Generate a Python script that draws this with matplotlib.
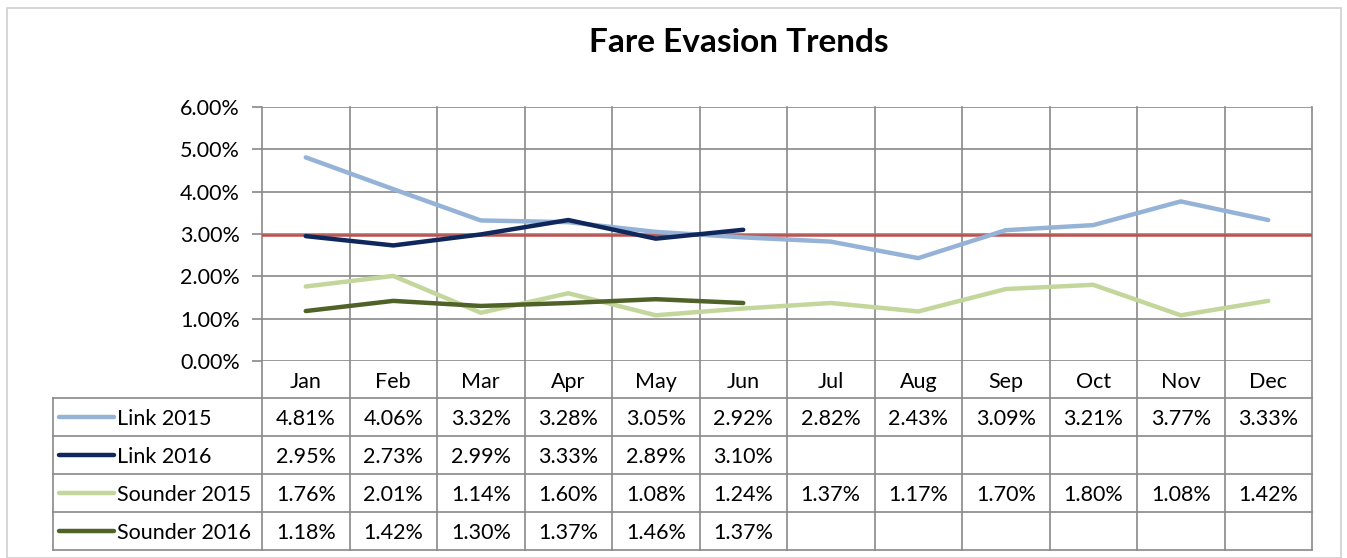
import matplotlib.pyplot as plt
import matplotlib.transforms as mtransforms
from matplotlib.patches import Rectangle
from matplotlib.lines import Line2D
import numpy as np

plt.rcParams['font.family'] = ['Lato', 'DejaVu Sans']

months = ['Jan', 'Feb', 'Mar', 'Apr', 'May', 'Jun',
          'Jul', 'Aug', 'Sep', 'Oct', 'Nov', 'Dec']
link_2015 = [4.81, 4.06, 3.32, 3.28, 3.05, 2.92, 2.82, 2.43, 3.09, 3.21, 3.77, 3.33]
link_2016 = [2.95, 2.73, 2.99, 3.33, 2.89, 3.10]
sounder_2015 = [1.76, 2.01, 1.14, 1.60, 1.08, 1.24, 1.37, 1.17, 1.70, 1.80, 1.08, 1.42]
sounder_2016 = [1.18, 1.42, 1.30, 1.37, 1.46, 1.37]
target = 2.97

series = [
    ('Link 2015', link_2015, '#95B3D7'),
    ('Link 2016', link_2016, '#10275C'),
    ('Sounder 2015', sounder_2015, '#C3D69B'),
    ('Sounder 2016', sounder_2016, '#4F6228'),
]

FS = 15.5
W, H = 1347, 558
fig = plt.figure(figsize=(W / 100, H / 100), dpi=100)

# outer chart border
fig.patches.append(Rectangle((7 / W, 0), (1341 - 7) / W, (H - 8) / H,
                             transform=fig.transFigure, fill=False,
                             edgecolor='#D0D0D0', lw=1.2))

left, right, top, bottom = 262, 1312, 107, 361
ax = fig.add_axes([left / W, (H - bottom) / H, (right - left) / W, (bottom - top) / H])
ax.set_xlim(0, 12)
ax.set_ylim(0, 6)
for s in ax.spines.values():
    s.set_visible(False)

grid_c = '#898989'
ax.set_yticks(np.arange(0, 7, 1))
ax.set_yticklabels(['%.2f%%' % v for v in range(7)], fontsize=FS)
ax.tick_params(axis='y', length=7, color=grid_c, width=1.2, pad=9)
ax.set_xticks([])
for v in range(7):
    ax.axhline(v, color=grid_c, lw=1.2, zorder=1)

fig.text(739 / W, 1 - 42 / H, 'Fare Evasion Trends', ha='center', va='center',
         fontsize=24, fontweight='bold')

x = np.arange(12) + 0.5
ax.axhline(target, color='#C0504D', lw=1.8, zorder=2)
for name, vals, c in series:
    ax.plot(x[:len(vals)], vals, color=c, lw=3.2, zorder=3, solid_capstyle='round')

# data table below the plot
tr = mtransforms.blended_transform_factory(ax.transData, ax.transAxes)
ph = bottom - top
rows_px = [361, 398, 436, 474, 512, 550]
rows = [(bottom - r) / ph for r in rows_px]
unit = (right - left) / 12
xlab = (53 - left) / unit
dy = -2 / ph  # nudge text down a little

# vertical grid through plot and table
for i in range(13):
    ax.add_line(Line2D([i, i], [rows[-1], 1], transform=tr, color=grid_c,
                       lw=1.2, clip_on=False, zorder=1))
for r in rows[1:]:
    ax.add_line(Line2D([xlab, 12], [r, r], transform=tr, color=grid_c,
                       lw=1.2, clip_on=False))
ax.add_line(Line2D([xlab, xlab], [rows[-1], rows[1]], transform=tr, color=grid_c,
                   lw=1.2, clip_on=False))

for i, m in enumerate(months):
    ax.text(i + 0.5, (rows[0] + rows[1]) / 2 + dy, m, transform=tr, ha='center',
            va='center', fontsize=FS)

for k, (name, vals, c) in enumerate(series):
    yc = (rows[k + 1] + rows[k + 2]) / 2
    ax.add_line(Line2D([(59 - left) / unit, (114 - left) / unit], [yc, yc],
                       transform=tr, color=c, lw=3.2, clip_on=False,
                       solid_capstyle='round'))
    ax.text((117 - left) / unit, yc + dy, name, transform=tr, ha='left',
            va='center', fontsize=FS)
    for i, v in enumerate(vals):
        ax.text(i + 0.5, yc + dy, '%.2f%%' % v, transform=tr, ha='center',
                va='center', fontsize=FS)

fig.savefig('out.png', dpi=100)
